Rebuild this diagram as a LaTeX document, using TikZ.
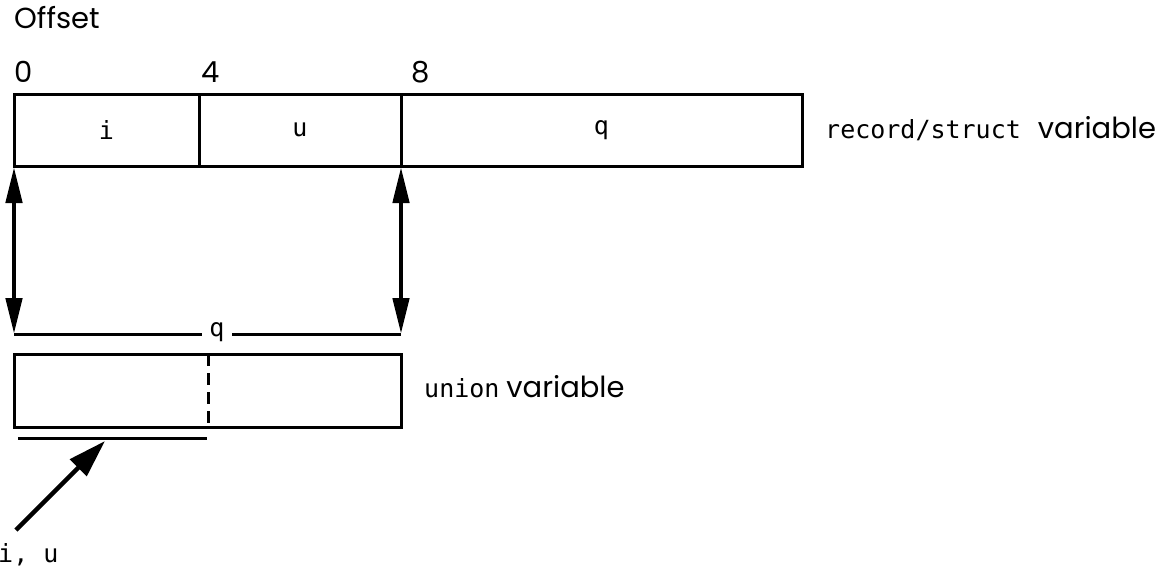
\documentclass[tikz,border=0pt]{standalone}
\usepackage{fontspec}
\setmainfont{Poppins}
\setmonofont{DejaVu Sans Mono}
\usetikzlibrary{arrows.meta}
\newcommand{\monof}{\ttfamily\fontsize{25}{30}\selectfont}
\newcommand{\sansf}{\normalfont\fontsize{29}{34}\selectfont}
\begin{document}
\begin{tikzpicture}[x=1pt,y=-1pt,
  box/.style={draw, line width=3pt, inner sep=0pt, outer sep=0pt, anchor=north west},
  cell/.style={box, minimum height=72pt, font=\monof},
  sanslab/.style={font=\sansf, inner sep=0pt, anchor=base west},
  monolab/.style={font=\monof, inner sep=0pt, anchor=base west},
  thin/.style={line width=3pt},
  dbl/.style={line width=4.5pt, {Triangle[length=36pt,width=16pt]}-{Triangle[length=36pt,width=16pt]}, shorten <=1pt},
  point/.style={line width=4.5pt, -{Triangle[length=38pt,width=23pt]}}
]
\useasboundingbox (0,0) rectangle (1161,568);
% offsets
\node[sanslab] (off) at (14,28) {Offset};
\node[sanslab] (o0) at (14,82) {0};
\node[sanslab] (o4) at (201,82) {4};
\node[sanslab] (o8) at (411,82) {8};
% struct
\node[cell, minimum width=185pt] (ci) at (14,94) {i};
\node[cell, minimum width=202pt] (cu) at (199,94) {u};
\node[cell, minimum width=401pt] (cq) at (401,94) {q};
\node[inner sep=0pt, anchor=base west] (slab) at (825,138)
  {\monof record/struct\hspace{17pt}\sansf variable};
% q span line
\coordinate (ql) at (14,334);
\coordinate (qr) at (401,334);
\draw[thin] (ql) -- (qr);
\node[fill=white, inner xsep=7pt, inner ysep=0pt, font=\monof] (qlab) at (217,332) {q};
\draw[dbl] (ci.south west) -- (ql);
\draw[dbl] (cq.south west) -- (qr);
% union
\node[box, minimum width=387pt, minimum height=73pt] (un) at (14,354) {};
\coordinate (dtop) at (208,354);
\coordinate (dbot) at (208,427);
\draw[line width=3pt, dash pattern=on 12pt off 7pt] (dtop) -- (dbot);
\node[inner sep=0pt, anchor=base west] (ulab) at (424,397)
  {\monof union\hspace{7pt}\sansf variable};
% i,u overlay
\coordinate (ua) at (18,438);
\coordinate (ub) at (207,438);
\draw[thin] (ua) -- (ub);
\node[monolab] (iu) at (-2,562) {i, u};
\coordinate (as) at (16,530);
\coordinate (ae) at (105,441);
\draw[point] (as) -- (ae);
\end{tikzpicture}
\end{document}
